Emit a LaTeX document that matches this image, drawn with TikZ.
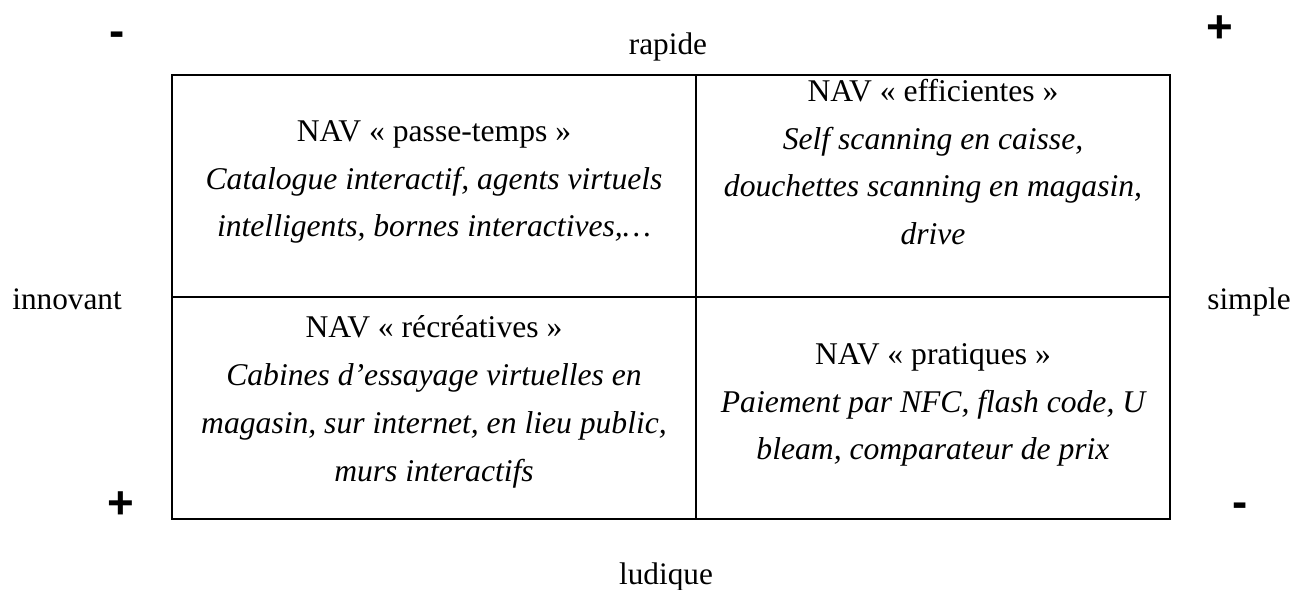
\documentclass[tikz,border=0pt]{standalone}
\usepackage{fontspec}
\setmainfont{Liberation Serif}
\newfontfamily\signfont{Liberation Sans}
\begin{document}
\begin{tikzpicture}[x=0.02cm,y=-0.02cm,
  cellbox/.style={draw,line width=1.1pt,inner sep=0pt,outer sep=0pt},
  celltext/.style={align=center,inner sep=0pt,font=\fontsize{18}{27.2}\selectfont},
  axislabel/.style={inner sep=0pt,font=\fontsize{17.8}{21}\selectfont},
  sign/.style={inner sep=0pt,font=\signfont\bfseries\fontsize{26}{30}\selectfont}]
\useasboundingbox (0,0) rectangle (1300,590);
% quadrant frames
\path[cellbox] (172,75) rectangle (696,297);
\path[cellbox] (696,75) rectangle (1170,297);
\path[cellbox] (172,297) rectangle (696,519);
\path[cellbox] (696,297) rectangle (1170,519);
% quadrant texts
\node[celltext] (tl) at (434,182) {NAV « passe-temps »\\
  \itshape Catalogue interactif, agents virtuels\\
  \itshape intelligents, bornes interactives,…};
\node[celltext] (tr) at (933,162) {NAV « efficientes »\\
  \itshape Self scanning en caisse,\\
  \itshape douchettes scanning en magasin,\\
  \itshape drive};
\node[celltext] (bl) at (434,402) {NAV « récréatives »\\
  \itshape Cabines d’essayage virtuelles en\\
  \itshape magasin, sur internet, en lieu public,\\
  \itshape murs interactifs};
\node[celltext] (br) at (933,405) {NAV « pratiques »\\
  \itshape Paiement par NFC, flash code, U\\
  \itshape bleam, comparateur de prix};
% axis labels
\node[axislabel,anchor=base] (rapide) at (668,55) {rapide};
\node[axislabel,anchor=base] (ludique) at (666,584) {ludique};
\node[axislabel,anchor=base west] (innovant) at (12,310) {innovant};
\node[axislabel,anchor=base west] (simple) at (1207,310) {simple};
% corner signs
\node[sign] (mtl) at (117,39) {-};
\node[sign] (ptr) at (1220,29) {+};
\node[sign] (pbl) at (121,505) {+};
\node[sign] (mbr) at (1240,510) {-};
\end{tikzpicture}
\end{document}
